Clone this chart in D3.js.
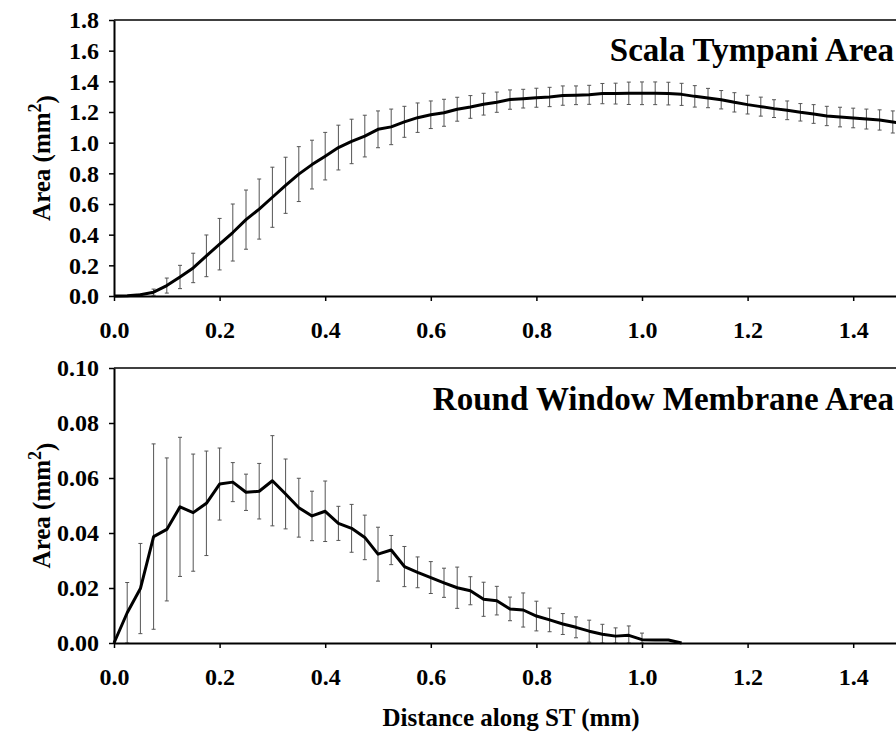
<!DOCTYPE html>
<html>
<head>
<meta charset="utf-8">
<script src="https://cdn.jsdelivr.net/npm/d3@7"></script>
<style>
  body { margin: 0; background: #fff; }
  svg { display: block; font-family: "Liberation Serif", "Times New Roman", serif; }
  .tick text { font-family: "Liberation Serif", "Times New Roman", serif; font-size: 24px; font-weight: bold; fill: #000; }
  .axis path, .axis line { stroke: #000; }
  .axis path { stroke-width: 2px; }
  .axis line { stroke-width: 1.5px; }
</style>
</head>
<body>
<div id="chart"></div>
<script>
// scala tympani area along the ST (mm, mm^2)
var stDist = [0, 0.025, 0.05, 0.075, 0.1, 0.125, 0.15, 0.175, 0.2, 0.225, 0.25, 0.275, 0.3, 0.325, 0.35,
  0.375, 0.4, 0.425, 0.45, 0.475, 0.5, 0.525, 0.55, 0.575, 0.6, 0.625, 0.65, 0.675, 0.7, 0.725, 0.75,
  0.775, 0.8, 0.825, 0.85, 0.875, 0.9, 0.925, 0.95, 0.975, 1.0, 1.025, 1.05, 1.075, 1.1, 1.125, 1.15,
  1.175, 1.2, 1.225, 1.25, 1.275, 1.3, 1.325, 1.35, 1.375, 1.4, 1.425, 1.45, 1.475, 1.5];
var stArea = [0, 0.002, 0.008, 0.025, 0.068, 0.124, 0.183, 0.262, 0.338, 0.414, 0.498, 0.567, 0.644, 0.722, 0.795,
  0.857, 0.912, 0.968, 1.008, 1.043, 1.087, 1.103, 1.136, 1.163, 1.182, 1.195, 1.218, 1.233, 1.251, 1.264, 1.281,
  1.287, 1.293, 1.298, 1.307, 1.309, 1.312, 1.32, 1.32, 1.322, 1.322, 1.322, 1.32, 1.315, 1.302, 1.291, 1.28,
  1.263, 1.248, 1.235, 1.222, 1.211, 1.198, 1.187, 1.174, 1.167, 1.161, 1.154, 1.148, 1.135, 1.12];
var stErr = [0, 0, 0.004, 0.02, 0.049, 0.076, 0.096, 0.136, 0.168, 0.186, 0.193, 0.196, 0.196, 0.183, 0.179,
  0.159, 0.155, 0.146, 0.145, 0.136, 0.12, 0.116, 0.101, 0.096, 0.09, 0.088, 0.078, 0.074, 0.071, 0.066, 0.063,
  0.061, 0.062, 0.063, 0.063, 0.061, 0.062, 0.066, 0.068, 0.073, 0.074, 0.074, 0.074, 0.072, 0.07, 0.063, 0.06,
  0.063, 0.061, 0.062, 0.058, 0.061, 0.057, 0.061, 0.063, 0.064, 0.064, 0.065, 0.066, 0.072, 0.07];

// round window membrane area
var rwDist = [0, 0.025, 0.05, 0.075, 0.1, 0.125, 0.15, 0.175, 0.2, 0.225, 0.25, 0.275, 0.3, 0.325, 0.35,
  0.375, 0.4, 0.425, 0.45, 0.475, 0.5, 0.525, 0.55, 0.575, 0.6, 0.625, 0.65, 0.675, 0.7, 0.725, 0.75,
  0.775, 0.8, 0.825, 0.85, 0.875, 0.9, 0.925, 0.95, 0.975, 1.0, 1.025, 1.05, 1.075];
var rwArea = [0, 0.011, 0.0198, 0.0387, 0.0413, 0.0495, 0.0474, 0.0508, 0.0578, 0.0585, 0.0548, 0.0552, 0.059, 0.0542, 0.0492,
  0.0462, 0.0479, 0.0435, 0.0417, 0.0384, 0.0323, 0.0338, 0.0278, 0.0257, 0.0238, 0.0219, 0.0201, 0.019, 0.0159, 0.0154, 0.0124,
  0.012, 0.0098, 0.0084, 0.0069, 0.0057, 0.0043, 0.0032, 0.0025, 0.0028, 0.0012, 0.0011, 0.0011, 0];
var rwErr = [0, 0.011, 0.0164, 0.0337, 0.026, 0.0253, 0.0213, 0.019, 0.0131, 0.0071, 0.0066, 0.0101, 0.0164, 0.0127, 0.0107,
  0.009, 0.011, 0.0062, 0.0087, 0.0081, 0.0098, 0.0053, 0.0073, 0.0056, 0.0058, 0.0053, 0.0075, 0.0051, 0.0062, 0.0052, 0.0043,
  0.0062, 0.0054, 0.0043, 0.0038, 0.0038, 0.004, 0.0036, 0.003, 0.0034, 0.0024, 0, 0, 0];

var xTicks = [0, 0.2, 0.4, 0.6, 0.8, 1.0, 1.2, 1.4];
var stTicks = [0, 0.2, 0.4, 0.6, 0.8, 1.0, 1.2, 1.4, 1.6, 1.8];
var rwTicks = [0, 0.02, 0.04, 0.06, 0.08, 0.10];

var svgWidth = 896;
var svgHeight = 734;

var svg = d3.select("#chart")
    .append("svg")
    .attr("width", svgWidth)
    .attr("height", svgHeight);

// x runs past the right edge of the picture (plot is cropped)
var xScale = d3.scaleLinear()
    .domain([0, 1.5])
    .range([114, 906]);

function drawPanel(opts) {
    var yScale = d3.scaleLinear()
        .domain(opts.yDomain)
        .range([opts.bottom, opts.top]);

    var data = opts.dist.map(function(d, i) {
        return { x: d, y: opts.area[i], e: opts.err[i] };
    });

    // frame top + right
    svg.append("line")
        .attr("x1", xScale(0)).attr("x2", xScale(1.5))
        .attr("y1", opts.top).attr("y2", opts.top)
        .attr("stroke", "#000").attr("stroke-width", 1.5);
    svg.append("line")
        .attr("x1", xScale(1.5)).attr("x2", xScale(1.5))
        .attr("y1", opts.top).attr("y2", opts.bottom)
        .attr("stroke", "#000").attr("stroke-width", 1.5);

    // error bars
    var bars = svg.append("g")
        .selectAll("g")
        .data(data.filter(d => d.e > 0))
        .enter()
        .append("g")
        .attr("stroke", "#555")
        .attr("stroke-width", 1);

    bars.append("line")
        .attr("x1", d => xScale(d.x)).attr("x2", d => xScale(d.x))
        .attr("y1", d => yScale(d.y + d.e))
        .attr("y2", d => yScale(Math.max(d.y - d.e, 0)));
    bars.append("line")
        .attr("x1", d => xScale(d.x) - 2).attr("x2", d => xScale(d.x) + 2)
        .attr("y1", d => yScale(d.y + d.e)).attr("y2", d => yScale(d.y + d.e));
    bars.append("line")
        .attr("x1", d => xScale(d.x) - 2).attr("x2", d => xScale(d.x) + 2)
        .attr("y1", d => yScale(Math.max(d.y - d.e, 0)))
        .attr("y2", d => yScale(Math.max(d.y - d.e, 0)));

    // mean line
    var line = d3.line()
        .x(d => xScale(d.x))
        .y(d => yScale(d.y));

    svg.append("path")
        .datum(data)
        .attr("d", line)
        .attr("fill", "none")
        .attr("stroke", "#000")
        .attr("stroke-width", 3)
        .attr("stroke-linejoin", "round");

    // axes
    svg.append("g")
        .classed("axis", true)
        .attr("transform", `translate(0, ${opts.bottom})`)
        .call(d3.axisBottom(xScale)
            .tickValues(xTicks)
            .tickFormat(d3.format(".1f"))
            .tickSize(5)
            .tickSizeOuter(0)
            .tickPadding(20));

    svg.append("g")
        .classed("axis", true)
        .attr("transform", `translate(${xScale(0)}, 0)`)
        .call(d3.axisLeft(yScale)
            .tickValues(opts.yTicks)
            .tickFormat(d3.format(opts.fmt))
            .tickSize(5)
            .tickSizeOuter(0)
            .tickPadding(10));

    // panel title
    svg.append("text")
        .attr("x", 894)
        .attr("y", opts.titleY)
        .attr("text-anchor", "end")
        .attr("font-size", "33px")
        .attr("font-weight", "bold")
        .text(opts.title);

    // y label with superscript
    var yLabel = svg.append("text")
        .attr("transform", `translate(50, ${(opts.top + opts.bottom) / 2}) rotate(-90)`)
        .attr("text-anchor", "middle")
        .attr("font-size", "25px")
        .attr("font-weight", "bold");
    yLabel.append("tspan").text("Area (mm");
    yLabel.append("tspan").attr("dy", "-0.5em").attr("font-size", "18px").text("2");
    yLabel.append("tspan").attr("dy", "0.5em").text(")");
}

drawPanel({
    top: 20, bottom: 296,
    yDomain: [0, 1.8], yTicks: stTicks, fmt: ".1f",
    dist: stDist, area: stArea, err: stErr,
    title: "Scala Tympani Area", titleY: 61
});

drawPanel({
    top: 368, bottom: 643,
    yDomain: [0, 0.10], yTicks: rwTicks, fmt: ".2f",
    dist: rwDist, area: rwArea, err: rwErr,
    title: "Round Window Membrane Area", titleY: 410
});

// shared x label
svg.append("text")
    .attr("x", 511)
    .attr("y", 726)
    .attr("text-anchor", "middle")
    .attr("font-size", "25px")
    .attr("font-weight", "bold")
    .text("Distance along ST (mm)");
</script>
</body>
</html>
